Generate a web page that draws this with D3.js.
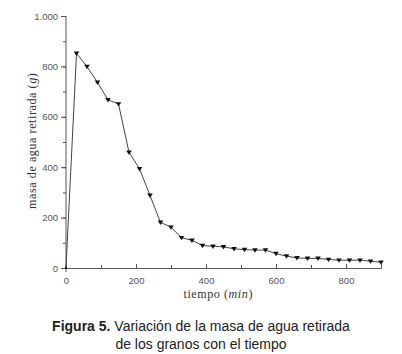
<!DOCTYPE html>
<html lang="es">
<head>
  <meta charset="UTF-8">
  <title>Masa de agua retirada</title>
  <script src="https://d3js.org/d3.v7.min.js"></script>
  <style>
    body { margin: 0; background: #fff; }
    .tick text { font-family: "Liberation Sans", Arial, sans-serif; font-size: 9.5px; fill: #555; }
    .axis path, .axis line { stroke: #555; }
    .axis-label { font-family: "Liberation Serif", "DejaVu Serif", serif; font-size: 12px; letter-spacing: 0.6px; fill: #333; }
    .caption { font-family: "Liberation Sans", Arial, sans-serif; font-size: 14px; fill: #222; text-anchor: middle; }
  </style>
</head>
<body>
  <div id="chart"></div>
  <script>
    // tiempo (min) y masa de agua retirada (g)
    const tiempo = [0, 30, 60, 90, 120, 150, 180, 210, 240, 270, 300, 330, 360, 390, 420, 450,
                    480, 510, 540, 570, 600, 630, 660, 690, 720, 750, 780, 810, 840, 870, 900];
    const masa = [0, 852, 799, 737, 667, 651, 459, 394, 288, 181, 162, 120, 110, 89, 86, 84,
                  76, 73, 71, 71, 57, 47, 40, 38, 38, 34, 31, 31, 31, 27, 23];
    const xTicks = [0, 200, 400, 600, 800];
    const yTicks = [0, 200, 400, 600, 800, 1000];

    const dataset = tiempo.map((t, i) => ({ t: t, m: masa[i] }));

    const margin = { top: 16, right: 21, bottom: 86, left: 66 };
    const width = 402 - margin.left - margin.right;
    const height = 354 - margin.top - margin.bottom;

    const root = d3.select("#chart")
      .append("svg")
      .attr("width", 402)
      .attr("height", 354);

    const svg = root.append("g")
      .attr("transform", `translate(${margin.left}, ${margin.top})`);

    const x = d3.scaleLinear().domain([0, 900]).range([0, width]);
    const y = d3.scaleLinear().domain([0, 1000]).range([height, 0]);

    const es = d3.formatLocale({ decimal: ",", thousands: ".", grouping: [3], currency: ["", ""] });

    // eje x: marcas hacia dentro
    svg.append("g")
      .attr("class", "axis")
      .attr("transform", `translate(0, ${height})`)
      .call(d3.axisBottom(x).tickValues(d3.range(0, 901, 100)).tickSize(-3).tickFormat(""))
      .call(g => g.selectAll(".domain").remove());
    svg.append("g")
      .attr("class", "axis")
      .attr("transform", `translate(0, ${height})`)
      .call(d3.axisBottom(x).tickValues(xTicks).tickSize(-4).tickPadding(9).tickFormat(d3.format("d")));

    // eje y: marcas hacia fuera
    svg.append("g")
      .attr("class", "axis")
      .call(d3.axisLeft(y).tickValues(d3.range(0, 1001, 100)).tickSize(3).tickFormat(""))
      .call(g => g.selectAll(".domain").remove());
    svg.append("g")
      .attr("class", "axis")
      .call(d3.axisLeft(y).tickValues(yTicks).tickSize(5).tickPadding(3).tickFormat(es.format(",")))
      .call(g => g.select(".domain").attr("d", `M0,${height + 4}V0`));

    const line = d3.line().x(d => x(d.t)).y(d => y(d.m));

    svg.append("path")
      .datum(dataset)
      .attr("fill", "none")
      .attr("stroke", "#444")
      .attr("stroke-width", 1)
      .attr("d", line);

    svg.selectAll(".marker")
      .data(dataset)
      .enter()
      .append("path")
      .attr("class", "marker")
      .attr("transform", d => `translate(${x(d.t)}, ${y(d.m)})`)
      .attr("d", d => d.t === 0 ? "M-1,-1H1V1H-1Z" : "M-2.8,-1.8L2.8,-1.8L0,2.6Z")
      .attr("fill", "#111");

    // etiquetas de ejes
    const xl = svg.append("text")
      .attr("class", "axis-label")
      .attr("x", x(435))
      .attr("y", height + 30)
      .attr("text-anchor", "middle");
    xl.append("tspan").text("tiempo (");
    xl.append("tspan").attr("font-style", "italic").text("min");
    xl.append("tspan").text(")");

    const yl = svg.append("text")
      .attr("class", "axis-label")
      .attr("transform", `translate(-30, ${y(505)}) rotate(-90)`)
      .attr("text-anchor", "middle");
    yl.append("tspan").text("masa de agua retirada (");
    yl.append("tspan").attr("font-style", "italic").text("g");
    yl.append("tspan").text(")");

    // pie de figura
    const c1 = root.append("text").attr("class", "caption").attr("x", 201).attr("y", 331);
    c1.append("tspan").attr("font-weight", "bold").text("Figura 5.");
    c1.append("tspan").text(" Variación de la masa de agua retirada");
    root.append("text").attr("class", "caption").attr("x", 201).attr("y", 349)
      .text("de los granos con el tiempo");
  </script>
</body>
</html>
